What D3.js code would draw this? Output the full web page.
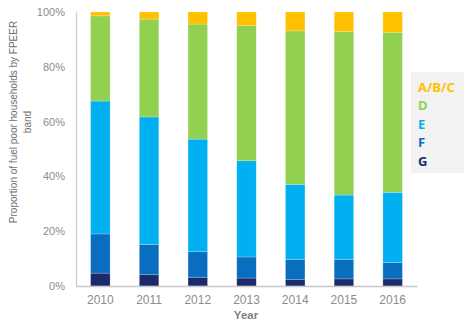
<!DOCTYPE html>
<html>
<head>
<meta charset="utf-8">
<script src="https://cdn.jsdelivr.net/npm/d3@7"></script>
<style>
  html, body { margin: 0; padding: 0; background: #fff; }
  svg { display: block; }
</style>
</head>
<body>
<svg id="chart" width="474" height="335"></svg>
<script>
// Fuel poor households by FPEER band, share of total (%)
const years = ["2010", "2011", "2012", "2013", "2014", "2015", "2016"];
const bandG   = [4.7, 4.1, 3.2, 2.9, 2.3, 2.6, 2.6];
const bandF   = [14.3, 11.1, 9.3, 7.7, 7.4, 7.1, 6.0];
const bandE   = [48.5, 46.5, 41.1, 35.1, 27.4, 23.5, 25.6];
const bandD   = [31.1, 35.7, 42.0, 49.3, 56.0, 59.6, 58.4];
const bandABC = [1.4, 2.6, 4.4, 5.0, 6.9, 7.2, 7.4];
const yTicks = [0, 20, 40, 60, 80, 100];

const bandNames = ["G", "F", "E", "D", "A/B/C"];
const bandColors = ["#1B2A6B", "#0A6EC0", "#00B0F0", "#92D050", "#FFC000"];
const bandValues = [bandG, bandF, bandE, bandD, bandABC];

const rows = years.map((y, i) => {
  const r = { year: y };
  bandNames.forEach((b, k) => { r[b] = bandValues[k][i]; });
  return r;
});

const svg = d3.select("#chart");
const margin = { left: 76, right: 57, top: 12, bottom: 49 };
const W = 474, H = 335;

const x = d3.scaleBand().domain(years)
  .range([margin.left, W - margin.right]).paddingInner(0.6).paddingOuter(0.3);
const y = d3.scaleLinear().domain([0, 100]).range([H - margin.bottom, margin.top]);

const stack = d3.stack().keys(bandNames);
const series = stack(rows);

// stacked bars
svg.append("g").selectAll("g").data(series).join("g")
  .attr("fill", (d, i) => bandColors[i])
  .selectAll("rect").data(d => d).join("rect")
  .attr("x", d => x(d.data.year))
  .attr("width", x.bandwidth())
  .attr("y", d => y(d[1]))
  .attr("height", d => y(d[0]) - y(d[1]))
  .attr("stroke", "#ffffff")
  .attr("stroke-opacity", 0.35)
  .attr("stroke-width", 0.6);

// y axis
const yAxis = svg.append("g")
  .attr("transform", `translate(${margin.left},0)`)
  .call(d3.axisLeft(y).tickValues(yTicks).tickFormat(d => d + "%").tickSize(0).tickPadding(11));
yAxis.select(".domain").attr("stroke", "#C8C8C8").attr("stroke-width", 1.2);
yAxis.selectAll("text")
  .attr("fill", "#8C8C8C")
  .style("font-family", "'Liberation Sans', Arial, sans-serif")
  .style("font-size", "11px");

// x axis
const xAxis = svg.append("g")
  .attr("transform", `translate(0,${H - margin.bottom})`)
  .call(d3.axisBottom(x).tickSize(0).tickPadding(9));
xAxis.select(".domain").attr("stroke", "#C8C8C8").attr("stroke-width", 1.4);
xAxis.selectAll("text")
  .attr("fill", "#8C8C8C")
  .style("font-family", "'Liberation Sans', Arial, sans-serif")
  .style("font-size", "12px");

// axis titles
svg.append("text")
  .attr("x", 246).attr("y", 319)
  .attr("text-anchor", "middle")
  .attr("fill", "#7F7F7F")
  .style("font-family", "'Liberation Sans', Arial, sans-serif")
  .style("font-size", "11.5px")
  .style("font-weight", "bold")
  .text("Year");

const yTitle = svg.append("text")
  .attr("transform", "translate(0,122) rotate(-90)")
  .attr("text-anchor", "middle")
  .attr("fill", "#6E6E6E")
  .style("font-family", "'Liberation Sans', Arial, sans-serif")
  .style("font-size", "10px");
yTitle.append("tspan").attr("x", 0).attr("y", 17).text("Proportion of fuel poor households by FPEER");
yTitle.append("tspan").attr("x", 0).attr("y", 31).text("band");

// legend
const legend = svg.append("g");
legend.append("rect")
  .attr("x", 411).attr("y", 72).attr("width", 53).attr("height", 101)
  .attr("fill", "#F2F2F2");
const legendOrder = [4, 3, 2, 1, 0];
legend.selectAll("text").data(legendOrder).join("text")
  .attr("x", 418)
  .attr("y", (d, i) => 91.5 + i * 18.6)
  .attr("fill", d => bandColors[d])
  .style("font-family", "'Open Sans', 'Liberation Sans', sans-serif")
  .style("font-size", "13px")
  .style("font-weight", "bold")
  .text(d => bandNames[d]);
</script>
</body>
</html>
